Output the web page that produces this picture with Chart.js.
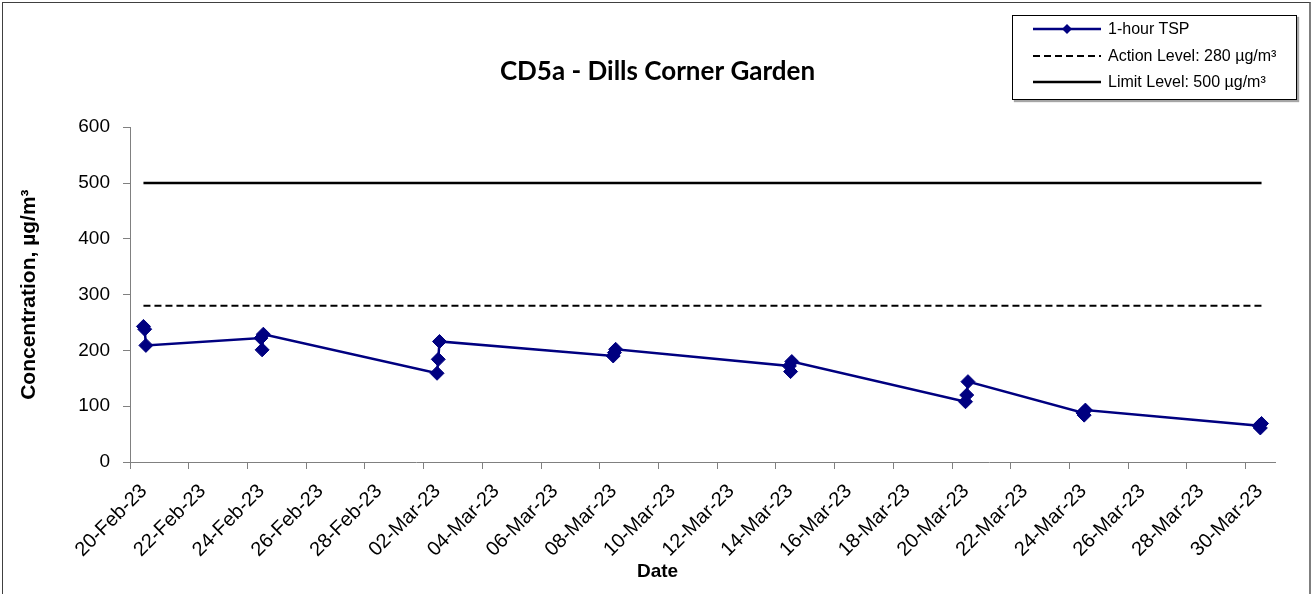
<!DOCTYPE html>
<html>
<head>
<meta charset="utf-8">
<script src="https://cdn.jsdelivr.net/npm/chart.js@4.4.1/dist/chart.umd.min.js"></script>
<style>
  html, body { margin: 0; padding: 0; background: #fff; }
  #wrap { position: relative; width: 1315px; height: 594px; overflow: hidden; }
  #chart { position: absolute; left: 0; top: 0; }
  #frame { position: absolute; left: 2px; top: 2px; width: 1306px; height: 640px;
           border-left: 1px solid #404040; border-top: 1px solid #404040; border-right: 2px solid #7f7f7f;
           pointer-events: none; }
  #legend { position: absolute; left: 1012px; top: 15px; width: 283px; height: 83px;
            border: 1px solid #000; box-shadow: 2px 2px 1px rgba(0,0,0,0.35); background: #fff;
            font-family: "Liberation Sans", Arial, sans-serif; font-size: 16px; color: #000; }
  #legend .row { display: flex; align-items: center; height: 26.5px; padding-left: 20px; }
  #legend .row svg { flex: none; margin-right: 7px; }
  #legend .row span { white-space: nowrap; }
</style>
</head>
<body>
<div id="wrap">
  <canvas id="chart" width="1315" height="594"></canvas>
  <div id="legend"></div>
  <div id="frame"></div>
</div>
<script>
// ---------- data ----------
const chartTitle = 'CD5a - Dills Corner Garden';
const yAxisTitle = 'Concentration, µg/m³';
const xAxisTitle = 'Date';

const tickLabels = ['20-Feb-23','22-Feb-23','24-Feb-23','26-Feb-23','28-Feb-23','02-Mar-23','04-Mar-23',
  '06-Mar-23','08-Mar-23','10-Mar-23','12-Mar-23','14-Mar-23','16-Mar-23','18-Mar-23','20-Mar-23',
  '22-Mar-23','24-Mar-23','26-Mar-23','28-Mar-23','30-Mar-23'];

const sampleTimes = [
  '2023-02-20T11:00:00Z','2023-02-20T12:00:00Z','2023-02-20T13:00:00Z',
  '2023-02-24T11:00:00Z','2023-02-24T12:00:00Z','2023-02-24T13:00:00Z',
  '2023-03-02T11:00:00Z','2023-03-02T12:00:00Z','2023-03-02T13:00:00Z',
  '2023-03-08T11:00:00Z','2023-03-08T12:00:00Z','2023-03-08T13:00:00Z',
  '2023-03-14T11:00:00Z','2023-03-14T12:00:00Z','2023-03-14T13:00:00Z',
  '2023-03-20T11:00:00Z','2023-03-20T12:00:00Z','2023-03-20T13:00:00Z',
  '2023-03-24T11:00:00Z','2023-03-24T12:00:00Z','2023-03-24T13:00:00Z',
  '2023-03-30T11:00:00Z','2023-03-30T12:00:00Z','2023-03-30T13:00:00Z'
];
const tspValues = [
  243, 238, 209,
  222, 201, 229,
  159, 184, 216,
  190, 196, 202,
  172, 162, 180,
  108, 120, 144,
  88, 84, 93,
  65, 61, 69
];
const actionLevel = 280;
const limitLevel = 500;
const seriesLabels = ['1-hour TSP', 'Action Level: 280 µg/m³', 'Limit Level: 500 µg/m³'];

const axisStart = '2023-02-20T00:00:00Z';
const axisEnd = '2023-03-31T00:00:00Z';
const yMin = 0, yMax = 600, yStep = 100;
const xStepDays = 2;

// ---------- build ----------
const DAY = 86400000;
const t0 = Date.parse(axisStart);
const toDay = s => (Date.parse(s) - t0) / DAY;
const tspPoints = sampleTimes.map((t, i) => ({ x: toDay(t), y: tspValues[i] }));
const xFirst = tspPoints[0].x;
const xLast = tspPoints[tspPoints.length - 1].x;

const FONT = '"Liberation Sans", Arial, sans-serif';

const chart = new Chart(document.getElementById('chart'), {
  type: 'line',
  data: {
    datasets: [
      { label: seriesLabels[0], data: tspPoints,
        borderColor: '#000080', backgroundColor: '#000080', borderWidth: 2.5,
        pointStyle: 'rectRot', pointRadius: 7, pointHoverRadius: 7, pointBorderWidth: 1,
        pointBackgroundColor: '#000080', pointBorderColor: '#000080', tension: 0 },
      { label: seriesLabels[1], data: [{ x: xFirst, y: actionLevel }, { x: xLast, y: actionLevel }],
        borderColor: '#000000', borderWidth: 2, borderDash: [7, 4], pointRadius: 0, pointHoverRadius: 0 },
      { label: seriesLabels[2], data: [{ x: xFirst, y: limitLevel }, { x: xLast, y: limitLevel }],
        borderColor: '#000000', borderWidth: 2.5, pointRadius: 0, pointHoverRadius: 0 }
    ]
  },
  options: {
    responsive: false,
    animation: false,
    devicePixelRatio: 1,
    layout: { padding: 0 },
    plugins: {
      legend: { display: false },
      tooltip: { enabled: false },
      title: { display: true, text: chartTitle, color: '#000',
               font: { family: 'Lato', size: 26, weight: 'bold' },
               padding: { top: 56, bottom: 40 } },
      subtitle: { display: true, position: 'bottom', text: xAxisTitle, color: '#000',
                  font: { family: FONT, size: 19, weight: 'bold' },
                  padding: { top: 0, bottom: 11 } }
    },
    scales: {
      x: {
        type: 'linear', min: 0, max: toDay(axisEnd),
        afterFit: s => { s.height = 98.2; },
        grid: { drawOnChartArea: false, color: '#808080', tickLength: 7 },
        border: { color: '#808080', width: 1 },
        ticks: { stepSize: xStepDays, includeBounds: false, autoSkip: false,
                 minRotation: 45, maxRotation: 45, padding: 10.5, labelOffset: 14,
                 color: '#000', font: { family: FONT, size: 20 },
                 callback: v => tickLabels[Math.round(v / xStepDays)] }
      },
      y: {
        min: yMin, max: yMax,
        afterFit: s => { s.width = 130; },
        grid: { drawOnChartArea: false, color: '#808080', tickLength: 7 },
        border: { color: '#808080', width: 1 },
        ticks: { stepSize: yStep, padding: 13, color: '#000', font: { family: FONT, size: 19 } },
        title: { display: true, text: yAxisTitle, color: '#000',
                 font: { family: FONT, size: 21, weight: 'bold' },
                 padding: { top: 17, bottom: 0 } }
      },
      // empty right-hand spacer so the plot ends where the reference's does
      yRight: {
        position: 'right', min: yMin, max: yMax,
        afterFit: s => { s.width = 40; },
        grid: { display: false }, border: { display: false }, ticks: { display: false }
      }
    }
  }
});

// ---------- legend (HTML, generated from chart datasets) ----------
const legendEl = document.getElementById('legend');
chart.data.datasets.forEach(ds => {
  const row = document.createElement('div');
  row.className = 'row';
  const dash = ds.borderDash ? ' stroke-dasharray="' + ds.borderDash.join(' ') + '"' : '';
  const marker = ds.pointRadius > 0
    ? '<polygon points="34,2 39,7 34,12 29,7" fill="' + ds.pointBackgroundColor + '"/>' : '';
  row.innerHTML = '<svg width="68" height="14"><line x1="0" y1="7" x2="68" y2="7" stroke="' +
    ds.borderColor + '" stroke-width="' + ds.borderWidth + '"' + dash + '/>' + marker + '</svg>';
  const span = document.createElement('span');
  span.textContent = ds.label;
  row.appendChild(span);
  legendEl.appendChild(row);
});
</script>
</body>
</html>
